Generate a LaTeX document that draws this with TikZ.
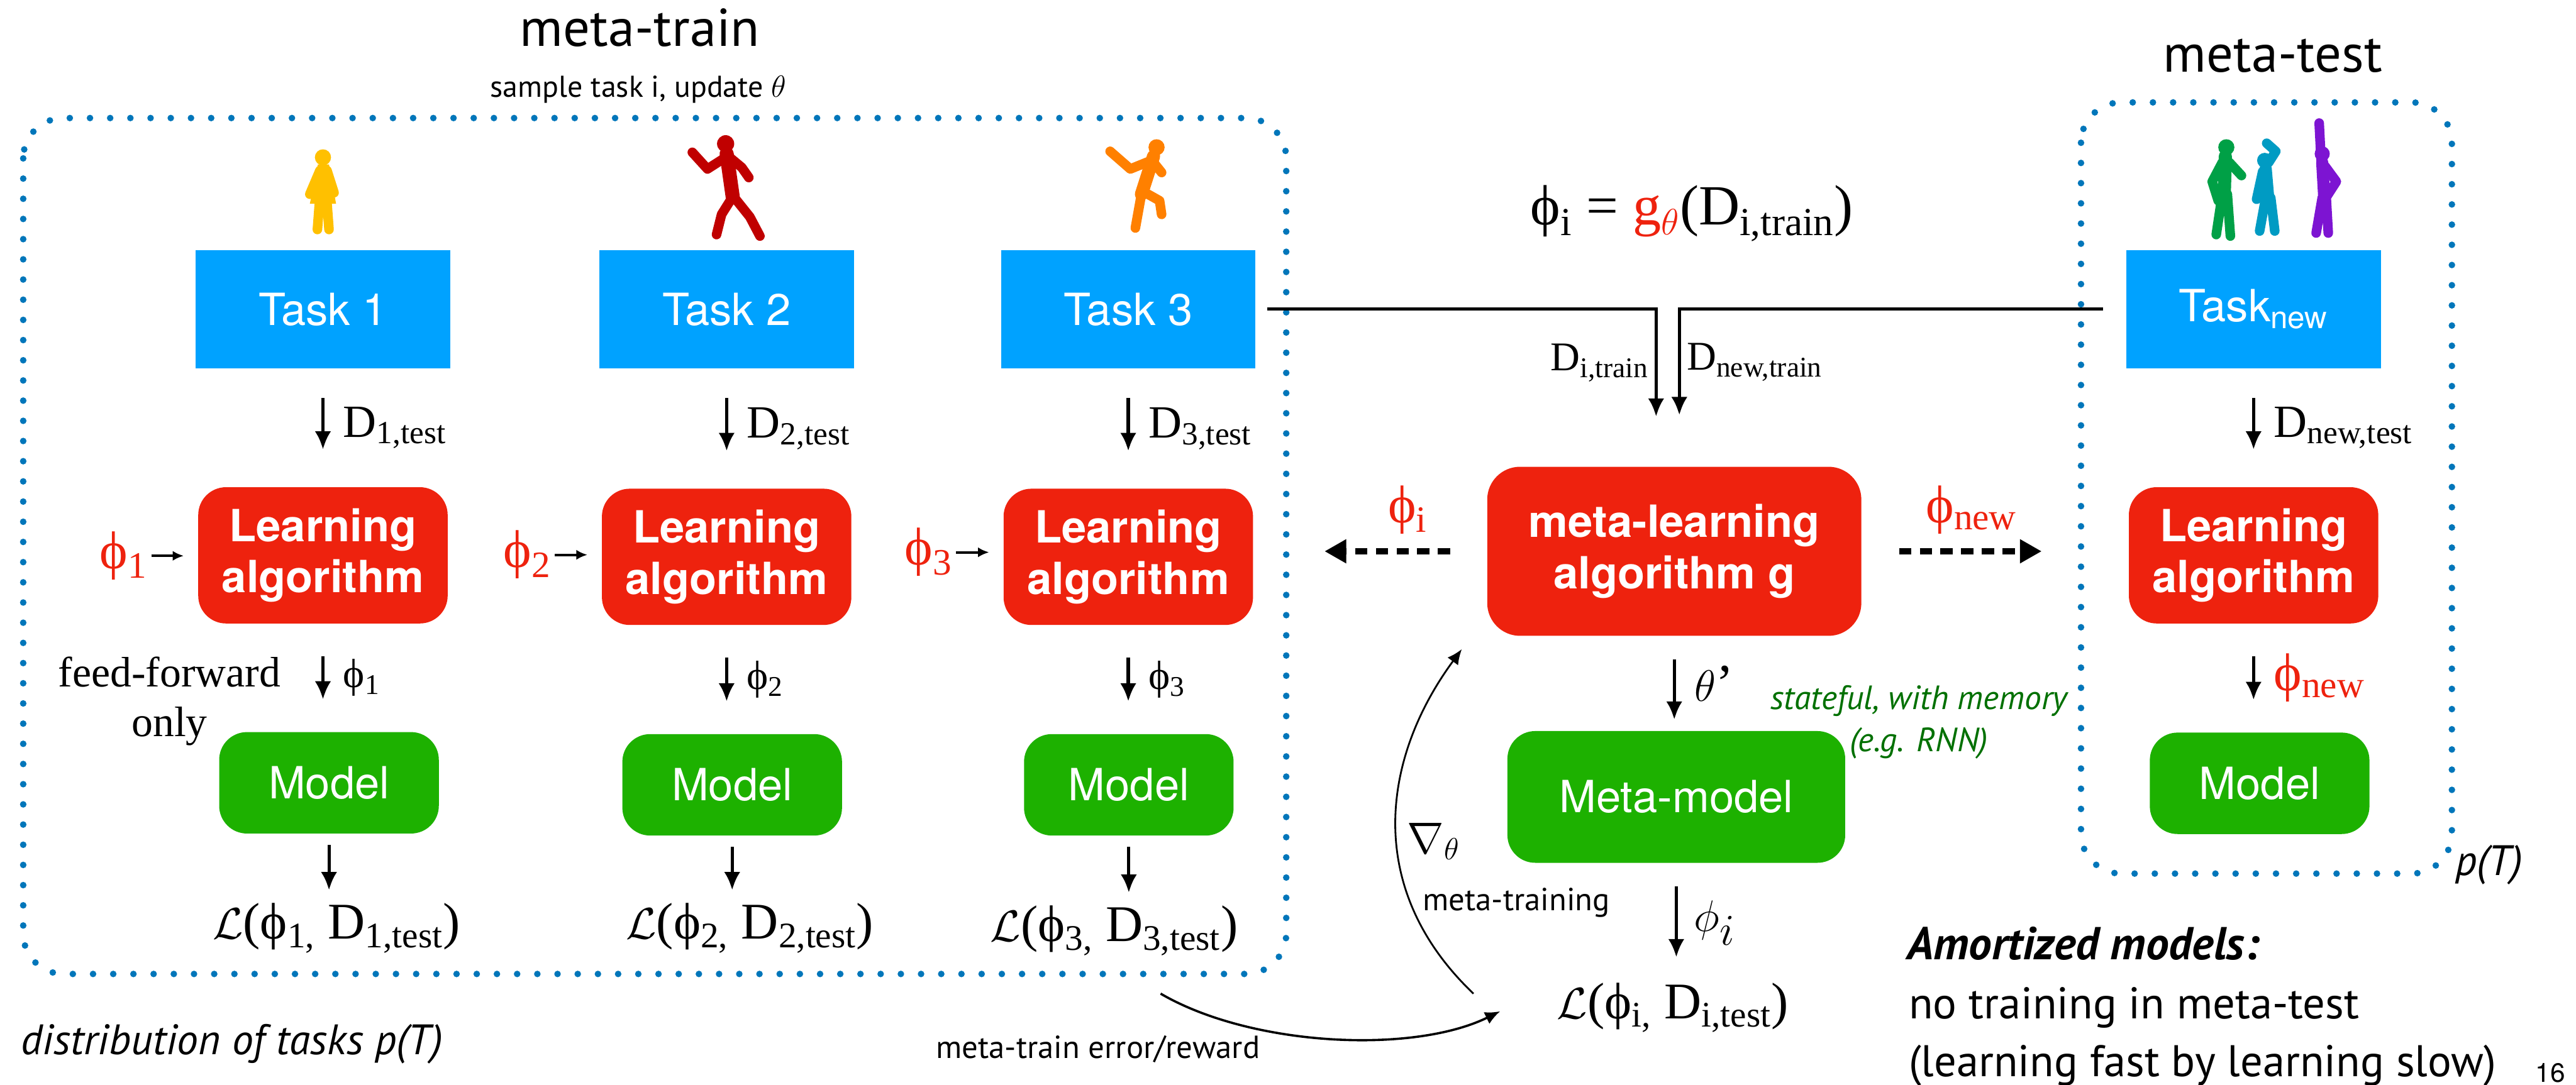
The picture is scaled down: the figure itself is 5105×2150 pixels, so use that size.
\documentclass[tikz,border=0pt]{standalone}
\usepackage{fontspec}
\setmainfont{Liberation Serif}
\newfontfamily\helv{TeX Gyre Heros}
\newfontfamily\myr{PT Sans}
\usetikzlibrary{arrows.meta,positioning}
\definecolor{taskblue}{RGB}{0,162,255}
\definecolor{algred}{RGB}{238,34,14}
\definecolor{modgreen}{RGB}{29,177,0}
\definecolor{dotblue}{RGB}{0,118,186}
\definecolor{memgreen}{RGB}{0,112,0}
\definecolor{girl}{RGB}{255,192,0}
\definecolor{runner}{RGB}{192,0,0}
\definecolor{kicker}{RGB}{255,128,0}
\definecolor{dancea}{RGB}{0,160,70}
\definecolor{danceb}{RGB}{0,155,195}
\definecolor{dancec}{RGB}{125,20,210}
\newcommand{\setfs}[2]{\fontsize{#1}{#2}\selectfont}
\tikzset{
  task/.style={fill=taskblue,text=white,minimum width=5.04cm,minimum height=2.35cm,inner sep=0pt,font=\helv\setfs{25}{30}},
  alg/.style={fill=algred,text=white,rounded corners=0.55cm,minimum width=4.94cm,minimum height=2.7cm,inner sep=0pt,align=center,font=\helv\bfseries\setfs{25}{29}},
  mdl/.style={fill=modgreen,text=white,rounded corners=0.55cm,minimum width=4.35cm,minimum height=2.01cm,inner sep=0pt,font=\helv\setfs{25}{30}},
  lbl/.style={font=\setfs{26}{30},inner sep=2pt},
  phl/.style={font=\setfs{23}{26},inner sep=2pt},
  phr/.style={font=\setfs{30}{34},text=algred,inner sep=2pt},
  loss/.style={font=\setfs{29}{32},inner sep=0pt},
  note/.style={font=\myr\setfs{18}{22}},
  plain/.style={inner sep=0pt,anchor=base west},
  arr/.style={line width=0.065cm,-{Latex[length=0.36cm,width=0.32cm]}},
  nudge/.style={line width=0.05cm,-{Latex[length=0.22cm,width=0.2cm]},shorten >=0.28cm},
  dotarr/.style={line width=0.12cm,dash pattern=on 0.24cm off 0.17cm,-{Triangle[length=0.43cm,width=0.45cm]}},
  curv/.style={line width=0.035cm,-{Latex[length=0.3cm,width=0.26cm]}},
  region/.style={draw=dotblue,line width=0.13cm,line cap=round,dash pattern=on 0pt off 0.4cm,rounded corners=0.8cm},
  limb/.style={line width=0.19cm,line cap=round,line join=round}
}
\begin{document}
\begin{tikzpicture}[x=0.01cm,y=-0.01cm]
\useasboundingbox (0,0) rectangle (5105,2150);

\node[anchor=base,font=\myr\setfs{30}{36}] (mtrain) at (1268,92) {meta-train};
\node[anchor=base,font=\myr\setfs{17}{20}] (sample) at (1265,193) {sample task i, update $\theta$};
\node[anchor=base,font=\myr\setfs{30}{36}] (mtest) at (4504,143) {meta-test};
\draw[region] (46,234) rectangle (2549,1931);
\draw[region] (4124,203) rectangle (4859,1732);

\fill[girl] (640,312) circle (0.16cm);
\fill[girl] (630,326) -- (652,326) -- (666,404) -- (614,404) -- cycle;
\draw[girl,limb] (633,402) -- (629,455) (648,402) -- (652,455) (634,338) -- (614,385) (648,338) -- (662,382);
\fill[runner] (1438,285) circle (0.17cm);
\draw[runner,limb,line width=0.28cm] (1440,305) -- (1452,390);
\draw[runner,limb] (1438,312) -- (1402,335) -- (1372,302) (1446,312) -- (1470,332) -- (1484,352) (1452,390) -- (1430,425) -- (1420,465) (1454,390) -- (1486,430) -- (1506,468);
\fill[kicker] (2292,292) circle (0.16cm);
\draw[kicker,limb,line width=0.26cm] (2286,310) -- (2262,385);
\draw[kicker,limb] (2282,318) -- (2240,335) -- (2200,300) (2286,322) -- (2302,342) (2266,380) -- (2298,398) -- (2302,425) (2262,385) -- (2250,452);
\fill[dancea] (4412,292) circle (0.16cm);
\draw[dancea,limb,line width=0.26cm] (4410,310) -- (4408,385);
\draw[dancea,limb] (4404,385) -- (4392,465) (4414,385) -- (4420,468) (4404,322) -- (4384,360) -- (4396,398) (4418,322) -- (4442,348);
\fill[danceb] (4488,318) circle (0.15cm);
\draw[danceb,limb,line width=0.24cm] (4490,334) -- (4495,392);
\draw[danceb,limb] (4490,392) -- (4478,458) (4500,392) -- (4508,458) (4496,322) -- (4510,300) -- (4492,284) (4484,340) -- (4472,395);
\fill[dancec] (4602,305) circle (0.15cm);
\draw[dancec,limb,line width=0.24cm] (4602,322) -- (4606,392);
\draw[dancec,limb] (4600,322) -- (4596,244) (4608,330) -- (4630,360) -- (4612,388) (4602,392) -- (4590,462) (4610,392) -- (4614,462);

\node[task] (t1) at (640,613) {Task 1};
\node[task] (t2) at (1440,613) {Task 2};
\node[task] (t3) at (2236,613) {Task 3};
\node[task] (tnew) at (4466,613) {Task\textsubscript{new}};

\node[alg] (la1) at (640,1101) {Learning\\algorithm};
\node[alg] (la2) at (1440,1104) {Learning\\algorithm};
\node[alg] (la3) at (2236,1104) {Learning\\algorithm};
\node[alg] (lanew) at (4466,1101) {Learning\\algorithm};
\node[alg,minimum width=7.41cm,minimum height=3.35cm,rounded corners=0.65cm] (ml) at (3318,1093) {meta-learning\\algorithm g};

\node[mdl] (m1) at (652,1552) {Model};
\node[mdl] (m2) at (1451,1556) {Model};
\node[mdl,minimum width=4.15cm] (m3) at (2237,1556) {Model};
\node[mdl] (mnew) at (4478,1553) {Model};
\node[mdl,minimum width=6.69cm,minimum height=2.61cm] (mm) at (3322,1580) {Meta-model};

\node[loss] (l1) at (667,1840) {$\mathcal{L}$(ϕ\textsubscript{1,} D\textsubscript{1,test})};
\node[loss] (l2) at (1486,1840) {$\mathcal{L}$(ϕ\textsubscript{2,} D\textsubscript{2,test})};
\node[loss] (l3) at (2208,1845) {$\mathcal{L}$(ϕ\textsubscript{3,} D\textsubscript{3,test})};
\node[loss] (li) at (3315,1998) {$\mathcal{L}$(ϕ\textsubscript{i,} D\textsubscript{i,test})};

\node[phr] (p1) at (245,1102) {ϕ\textsubscript{1}};
\node[phr] (p2) at (1045,1100) {ϕ\textsubscript{2}};
\node[phr] (p3) at (1840,1095) {ϕ\textsubscript{3}};
\draw[nudge] (p1.east) -- (p1.east -| la1.west);
\draw[nudge] (p2.east) -- (p2.east -| la2.west);
\draw[nudge] (p3.east) -- (p3.east -| la3.west);

\draw[arr,shorten <=0.58cm,shorten >=0.74cm] (t1) -- (la1) node[midway,right=0.3cm,lbl] {D\textsubscript{1,test}};
\draw[arr,shorten <=0.58cm,shorten >=0.74cm] (t2) -- (la2) node[midway,right=0.3cm,lbl] {D\textsubscript{2,test}};
\draw[arr,shorten <=0.58cm,shorten >=0.74cm] (t3) -- (la3) node[midway,right=0.3cm,lbl] {D\textsubscript{3,test}};
\draw[arr,shorten <=0.58cm,shorten >=0.74cm] (tnew) -- (lanew) node[midway,right=0.3cm,lbl] {D\textsubscript{new,test}};

\draw[arr,shorten <=0.64cm,shorten >=0.64cm] (la1.south) -- (la1.south |- m1.north) node[midway,right=0.3cm,phl] {ϕ\textsubscript{1}};
\draw[arr,shorten <=0.64cm,shorten >=0.64cm] (la2.south) -- (la2.south |- m2.north) node[midway,right=0.3cm,phl] {ϕ\textsubscript{2}};
\draw[arr,shorten <=0.64cm,shorten >=0.64cm] (la3.south) -- (la3.south |- m3.north) node[midway,right=0.3cm,phl] {ϕ\textsubscript{3}};
\draw[arr,shorten <=0.64cm,shorten >=0.64cm] (lanew.south) -- (lanew.south |- mnew.north) node[midway,right=0.3cm,phr] {ϕ\textsubscript{new}};
\node[align=center,font=\setfs{24}{28}] (ff) at (336,1390) {feed-forward\\only};

\draw[arr,shorten <=0.22cm,shorten >=0.25cm] (m1.south) -- (m1.south |- l1.north);
\draw[arr,shorten <=0.22cm,shorten >=0.25cm] (m2.south) -- (m2.south |- l2.north);
\draw[arr,shorten <=0.22cm,shorten >=0.25cm] (m3.south) -- (m3.south |- l3.north);

\node[font=\setfs{32}{36}] (gform) at (3353,423) {ϕ\textsubscript{i} = \textcolor{algred}{g\textsubscript{$\theta$}}(D\textsubscript{i,train})};
\coordinate (ditr) at (3282,826);
\coordinate (dntr) at (3328,823);
\draw[arr] ([xshift=0.22cm]t3.east) -| (ditr) node[pos=0.75,left,font=\setfs{23}{26}] {D\textsubscript{i,train}};
\draw[arr] ([xshift=-0.46cm]tnew.west) -| (dntr) node[pos=0.75,right,font=\setfs{23}{26}] {D\textsubscript{new,train}};

\node[phr] (phii) at (2790,1011) {ϕ\textsubscript{i}};
\node[phr] (phin) at (3907,1011) {ϕ\textsubscript{new}};
\draw[dotarr,shorten <=0.73cm,shorten >=1.41cm] (ml.west) -- (ml.west -| la3.east);
\draw[dotarr,shorten <=0.74cm,shorten >=1.72cm] (ml.east) -- (ml.east -| lanew.west);

\draw[arr,shorten <=0.46cm,shorten >=0.22cm] (ml.south) -- (ml.south |- mm.north) node[midway,right=0.25cm,font=\setfs{30}{34}] {$\theta$’};
\node[font=\myr\itshape\setfs{19}{23.6},text=memgreen,align=center] (memo) at (3803,1432) {stateful, with memory\\(e.g. RNN)};
\draw[arr,shorten <=0.46cm,shorten >=0.5cm] (mm.south) -- (mm.south |- li.north) node[midway,right=0.2cm,font=\setfs{36}{40}] {$\phi_i$};

\coordinate (errfrom) at (2300,1970);
\coordinate (errto) at (2973,2005);
\draw[curv,line width=0.045cm] (errfrom) .. controls (2480,2075) and (2800,2090) .. (errto);
\node[note,anchor=base] (err) at (2176,2098) {meta-train error/reward};
\coordinate (gradfrom) at (2920,1970);
\coordinate (gradto) at (2897,1287);
\draw[curv] (gradfrom) .. controls (2700,1760) and (2740,1500) .. (gradto);
\node[font=\setfs{25}{28}] (nab) at (2841,1668) {$\nabla_\theta$};
\node[note] (mtr) at (3005,1789) {meta-training};

\node[plain,font=\myr\itshape\setfs{24}{28}] (dist) at (41,2091) {distribution of tasks p(T)};
\node[plain,font=\myr\itshape\setfs{24}{28}] (pt) at (4865,1735) {p(T)};
\node[plain,font=\myr\bfseries\itshape\setfs{26}{30}] (amo) at (3779,1902) {Amortized models:};
\node[plain,font=\myr\setfs{25}{30}] (amo2) at (3782,2020) {no training in meta-test};
\node[plain,font=\myr\setfs{25}{30}] (amo3) at (3782,2134) {(learning fast by learning slow)};
\node[plain,font=\helv\setfs{15}{18}] (pg) at (5024,2146) {16};
\end{tikzpicture}
\end{document}
